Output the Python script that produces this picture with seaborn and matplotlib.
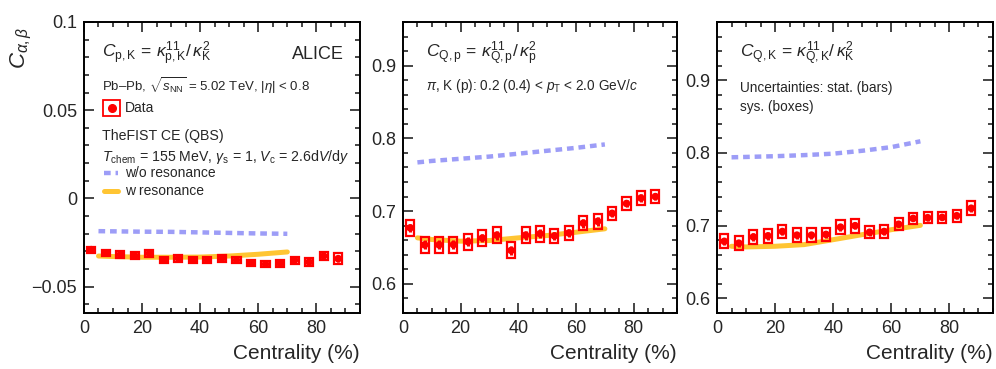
import numpy as np
import pandas as pd
import matplotlib
matplotlib.use('Agg')
import matplotlib.pyplot as plt
from matplotlib.patches import Rectangle
from matplotlib.ticker import MultipleLocator
import seaborn as sns

# ---------------- data ----------------
cent = [2.5, 7.5, 12.5, 17.5, 22.5, 27.5, 32.5, 37.5, 42.5, 47.5,
        52.5, 57.5, 62.5, 67.5, 72.5, 77.5, 82.5, 87.5]

cpk_val = [-0.0291, -0.0310, -0.0319, -0.0325, -0.0312, -0.0350, -0.0340, -0.0350, -0.0350,
           -0.0340, -0.0350, -0.0367, -0.0373, -0.0369, -0.0350, -0.0361, -0.0327, -0.0342]
cpk_sys = [0.0017, 0.0018, 0.0018, 0.0018, 0.0018, 0.0019, 0.0019, 0.0019, 0.0019,
           0.0019, 0.0019, 0.0019, 0.0019, 0.0019, 0.0020, 0.0021, 0.0024, 0.0030]
cpk_stat = [0.0008, 0.0008, 0.0008, 0.0008, 0.0008, 0.0009, 0.0009, 0.0009, 0.0009,
            0.0009, 0.0009, 0.0009, 0.0010, 0.0010, 0.0011, 0.0012, 0.0015, 0.0018]

cqp_val = [0.677, 0.6537, 0.6537, 0.654, 0.658, 0.663, 0.667, 0.646, 0.667,
           0.669, 0.666, 0.670, 0.6835, 0.686, 0.697, 0.7105, 0.718, 0.720]
cqp_sys = [0.011, 0.011, 0.011, 0.011, 0.011, 0.011, 0.011, 0.011, 0.011,
           0.011, 0.010, 0.010, 0.010, 0.010, 0.009, 0.009, 0.009, 0.009]
cqp_stat = [0.006, 0.006, 0.006, 0.006, 0.006, 0.006, 0.006, 0.006, 0.006,
            0.006, 0.006, 0.006, 0.006, 0.006, 0.005, 0.005, 0.005, 0.005]

cqk_val = [0.6785, 0.676, 0.6845, 0.686, 0.692, 0.687, 0.687, 0.688, 0.698,
           0.700, 0.691, 0.692, 0.702, 0.710, 0.711, 0.7114, 0.7137, 0.724]
cqk_sys = [0.0095, 0.0095, 0.0095, 0.0095, 0.0095, 0.0095, 0.0095, 0.0095, 0.0095,
           0.0095, 0.0085, 0.0085, 0.0080, 0.0075, 0.0075, 0.0075, 0.0080, 0.0095]
cqk_stat = [0.005, 0.005, 0.005, 0.005, 0.005, 0.005, 0.005, 0.005, 0.005,
            0.005, 0.005, 0.005, 0.004, 0.004, 0.004, 0.004, 0.004, 0.005]

model_cent = [5, 10, 20, 30, 40, 50, 60, 70]
cpk_wo = [-0.0186, -0.0187, -0.0189, -0.0190, -0.0193, -0.0196, -0.0199, -0.0201]
cpk_w = [-0.0327, -0.0330, -0.0334, -0.0334, -0.0333, -0.0327, -0.0317, -0.0304]
cqp_wo = [0.767, 0.769, 0.772, 0.775, 0.779, 0.783, 0.787, 0.7917]
cqp_w = [0.6633, 0.661, 0.6587, 0.6596, 0.6633, 0.6665, 0.671, 0.6757]
cqk_wo = [0.794, 0.7945, 0.7955, 0.797, 0.799, 0.803, 0.808, 0.816]
cqk_w = [0.6717, 0.6708, 0.6717, 0.674, 0.6808, 0.6877, 0.6945, 0.7005]

# ---------------- style ----------------
sns.set_style('ticks')
plt.rcParams['font.family'] = ['Liberation Sans', 'DejaVu Sans']
plt.rcParams['mathtext.fontset'] = 'custom'
plt.rcParams['mathtext.rm'] = 'Liberation Sans'
plt.rcParams['mathtext.it'] = 'Liberation Sans:italic'
plt.rcParams['mathtext.bf'] = 'Liberation Sans:bold'

RED = '#ff0000'
BLUE = '#9d9df7'
GOLD = '#ffc533'

fig = plt.figure(figsize=(9.96, 3.69), dpi=100)
boxes = [(0.0843, 0.1518, 0.2771, 0.7886),
         (0.4046, 0.1518, 0.2751, 0.7886),
         (0.7199, 0.1518, 0.2771, 0.7886)]

panels = [
    (cpk_val, cpk_sys, cpk_stat, cpk_wo, cpk_w, (-0.065, 0.1), 0.05, 0.01,
     r'$C_{\mathrm{p,K}}\,=\,\kappa^{11}_{\mathrm{p,K}}/\,\kappa^{2}_{\mathrm{K}}$'),
    (cqp_val, cqp_sys, cqp_stat, cqp_wo, cqp_w, (0.56, 0.96), 0.1, 0.02,
     r'$C_{\mathrm{Q,p}}\,=\,\kappa^{11}_{\mathrm{Q,p}}/\,\kappa^{2}_{\mathrm{p}}$'),
    (cqk_val, cqk_sys, cqk_stat, cqk_wo, cqk_w, (0.58, 0.98), 0.1, 0.02,
     r'$C_{\mathrm{Q,K}}\,=\,\kappa^{11}_{\mathrm{Q,K}}/\,\kappa^{2}_{\mathrm{K}}$'),
]

axes = []
for i, (val, sys_e, stat_e, wo, w, ylim, maj, mnr, title) in enumerate(panels):
    ax = fig.add_axes(boxes[i])
    axes.append(ax)

    mdf = pd.DataFrame({'cent': model_cent, 'wo': wo, 'w': w})
    sns.lineplot(data=mdf, x='cent', y='wo', ax=ax, color=BLUE, lw=3.2,
                 linestyle=(0, (1.5, 1.1)), zorder=2)
    sns.lineplot(data=mdf, x='cent', y='w', ax=ax, color=GOLD, lw=3.6, zorder=2)

    for c, v, s in zip(cent, val, sys_e):
        ax.add_patch(Rectangle((c - 1.4, v - s), 2.8, 2 * s, fill=False,
                               edgecolor=RED, lw=1.6, zorder=3))
    ax.errorbar(cent, val, yerr=stat_e, fmt='none', ecolor=RED, elinewidth=2.2,
                capsize=0, zorder=4)
    ddf = pd.DataFrame({'cent': cent, 'val': val})
    sns.scatterplot(data=ddf, x='cent', y='val', ax=ax, color=RED, s=30,
                    edgecolor='none', zorder=5)

    ax.set_xlim(0, 95)
    ax.set_ylim(*ylim)
    ax.xaxis.set_major_locator(MultipleLocator(20))
    ax.xaxis.set_minor_locator(MultipleLocator(5))
    ax.yaxis.set_major_locator(MultipleLocator(maj))
    ax.yaxis.set_minor_locator(MultipleLocator(mnr))
    ax.tick_params(which='both', direction='in', top=True, right=True,
                   labelsize=13, width=1.2, pad=5)
    ax.tick_params(which='major', length=7)
    ax.tick_params(which='minor', length=3.6)
    for sp in ax.spines.values():
        sp.set_linewidth(1.4)
        sp.set_color('black')
    ax.set_ylabel('')
    ax.set_xlabel('Centrality (%)', fontsize=15, loc='right', labelpad=5)
    ax.text(0.065 if i == 0 else 0.084, 0.89, title, transform=ax.transAxes,
            fontsize=12.5, va='center', ha='left')

axes[0].yaxis.set_major_formatter(plt.FuncFormatter(
    lambda v, p: '0' if abs(v) < 1e-9 else ('\u2212' if v < 0 else '') + f'{abs(v):g}'))

# ---------------- annotations ----------------
a0 = axes[0]
tr = a0.transAxes
a0.text(0.94, 0.89, 'ALICE', transform=tr, fontsize=13, ha='right', va='center')
a0.text(0.065, 0.78, r'Pb–Pb, $\sqrt{s_{\mathrm{NN}}}$ = 5.02 TeV, |$\eta$| < 0.8',
        transform=tr, fontsize=9.5, va='center')
a0.add_patch(Rectangle((0.069, 0.677), 0.062, 0.056, transform=tr, fill=False,
                       edgecolor=RED, lw=1.3, zorder=6))
a0.plot([0.1], [0.705], 'o', color=RED, ms=5.5, transform=tr, zorder=7)
a0.text(0.148, 0.705, 'Data', transform=tr, fontsize=10, va='center')
a0.text(0.065, 0.608, 'TheFIST CE (QBS)', transform=tr, fontsize=10.2, va='center')
a0.text(0.065, 0.536,
        r'$T_{\mathrm{chem}}$ = 155 MeV, $\gamma_{\mathrm{s}}$ = 1, $V_{\mathrm{c}}$ = 2.6d$V$/d$y$',
        transform=tr, fontsize=10.2, va='center')
a0.plot([0.072, 0.125], [0.481, 0.481], color=BLUE, lw=3.2,
        linestyle=(0, (1.5, 1.1)), transform=tr)
a0.text(0.148, 0.481, 'w/o resonance', transform=tr, fontsize=10, va='center')
a0.plot([0.072, 0.125], [0.419, 0.419], color=GOLD, lw=3.6, transform=tr)
a0.text(0.148, 0.419, 'w resonance', transform=tr, fontsize=10, va='center')

axes[1].text(0.084, 0.78, r'$\pi$, K (p): 0.2 (0.4) < $p_{\mathrm{T}}$ < 2.0 GeV/$c$',
             transform=axes[1].transAxes, fontsize=9.8, va='center')
axes[2].text(0.084, 0.773, 'Uncertainties: stat. (bars)',
             transform=axes[2].transAxes, fontsize=9.8, va='center')
axes[2].text(0.084, 0.708, 'sys. (boxes)',
             transform=axes[2].transAxes, fontsize=9.8, va='center')

fig.text(0.022, 0.87, r'$C_{\alpha,\beta}$', rotation=90, fontsize=16,
         ha='center', va='center')

fig.savefig('out.png', dpi=100)
